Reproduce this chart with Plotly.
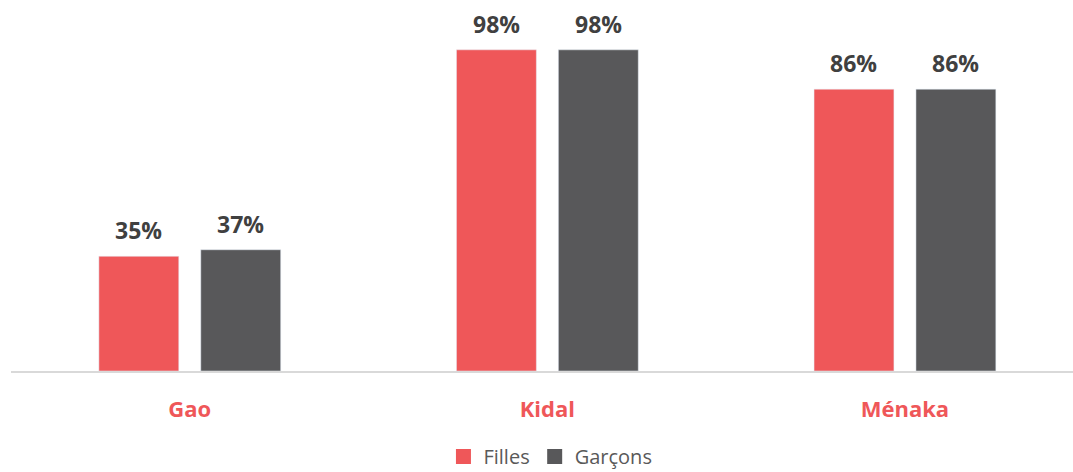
import plotly.graph_objects as go

categories = ["Gao", "Kidal", "Ménaka"]
filles = [35, 98, 86]
garcons = [37, 98, 86]
series_names = ["Filles", "Garçons"]

RED = "#EF5759"
GREY = "#58585A"
FONT = "Open Sans"

fig = go.Figure()
fig.add_trace(go.Bar(x=categories, y=filles, name=series_names[0], marker_color=RED,
                     showlegend=False))
fig.add_trace(go.Bar(x=categories, y=garcons, name=series_names[1], marker_color=GREY,
                     showlegend=False))
# legend entries with larger square symbols
for name, col in zip(series_names, (RED, GREY)):
    fig.add_trace(go.Scatter(x=[None], y=[None], mode="markers", name=name,
                             marker=dict(symbol="square", size=15, color=col)))

for vals, shift in ((filles, -51), (garcons, 51)):
    for c, v in zip(categories, vals):
        fig.add_annotation(x=c, y=v, text=f"<b>{v}%</b>", showarrow=False,
                           xshift=shift, yshift=8, yanchor="bottom",
                           font=dict(family=FONT, size=23, color="#404040"))

fig.update_layout(
    width=1073, height=472,
    margin=dict(l=11, r=0, t=20, b=101),
    paper_bgcolor="white", plot_bgcolor="white",
    barmode="group", bargap=0.43, bargroupgap=0.216,
    font=dict(family=FONT),
    showlegend=True,
    legend=dict(orientation="h", xref="container", yref="container",
                x=0.513, xanchor="center", y=0.033, yanchor="middle",
                font=dict(family=FONT, size=20, color="#595959"),
                traceorder="normal", itemwidth=30, tracegroupgap=0),
    xaxis=dict(type="category", range=[-0.5, 2.47], showline=True, linecolor="#D9D9D9",
               linewidth=1.5, ticks="", showgrid=False, ticklabelstandoff=18,
               tickfont=dict(family=FONT, size=22, color=RED, weight="bold")),
    yaxis=dict(range=[0, 107.1], visible=False, showgrid=False, zeroline=False),
)

fig.write_html("out.html", config={"displayModeBar": False})
with open("out.html", encoding="utf-8") as f:
    html = f.read()
html = html.replace("<head>", "<head><style>html,body{margin:0;padding:0;}</style>", 1)
with open("out.html", "w", encoding="utf-8") as f:
    f.write(html)
